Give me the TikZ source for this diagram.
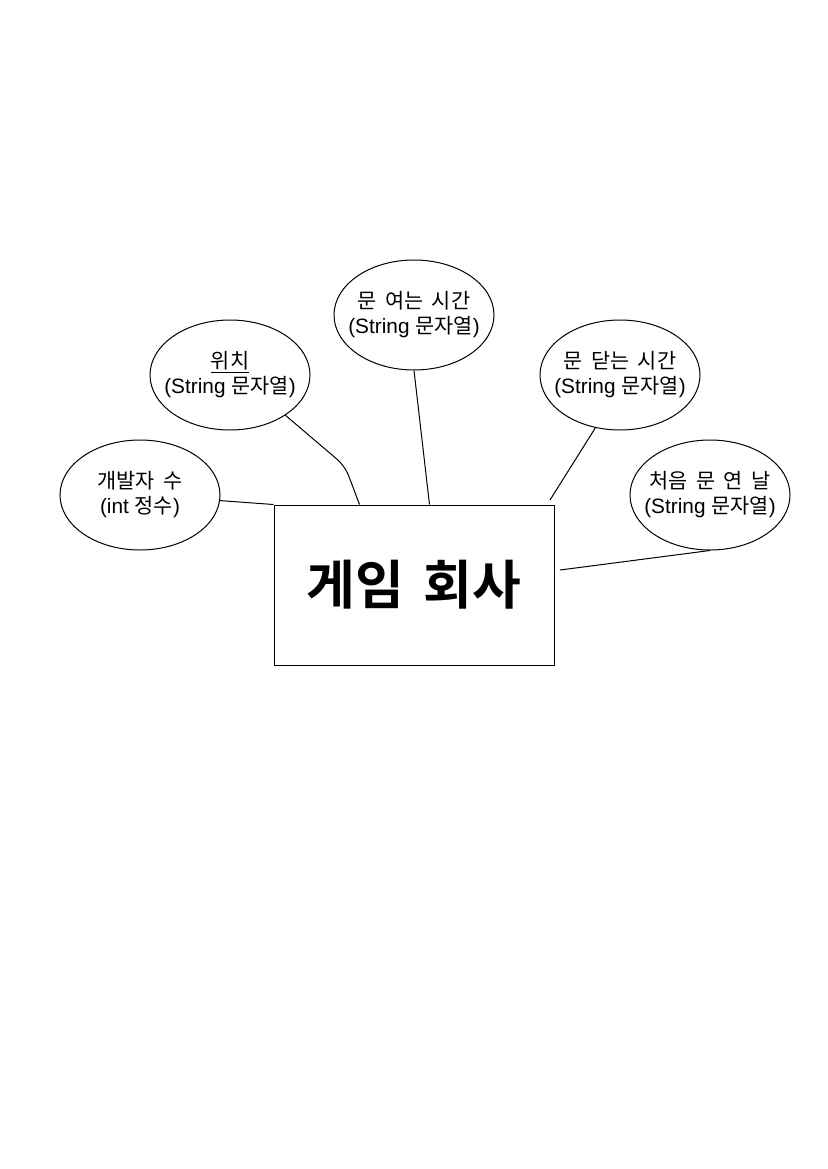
\documentclass[tikz,border=0pt]{standalone}
\usepackage{fontspec}
\setmainfont{Liberation Sans}
\newfontfamily\kr{Noto Sans CJK KR}[WordSpace=1.8]
\newfontfamily\krb{Noto Sans CJK KR Bold}[WordSpace=1.6]
\usetikzlibrary{shapes.geometric,calc}
\begin{document}
\begin{tikzpicture}[x=1pt,y=-1pt,
  attr/.style={draw=black,line width=1pt,ellipse,minimum width=160pt,minimum height=110pt,inner sep=0pt},
  attrtext/.style={align=center,inner sep=0pt,font=\fontsize{20.8}{25}\selectfont},
  entity/.style={draw=black,line width=1pt,minimum width=280pt,minimum height=160pt,inner sep=0pt,
    font=\krb\fontsize{53}{53}\selectfont},
  link/.style={draw=black,line width=1pt}]
\fill[white] (0,0) rectangle (827,1169);
\useasboundingbox (0,0) rectangle (827,1169);

\node[entity] (box) at (414,585) {게임 회사};

\node[attr] (e1) at (140,495) {};
\node[attrtext] (t1) at (e1.center) {{\kr 개발자 수}\\(int {\kr 정수})};

\node[attr] (e2) at (230,375) {};
\node[attrtext] (t2) at (e2.center) {\underline{\kr 위치}\\(String {\kr 문자열})};

\node[attr] (e3) at (414,315) {};
\node[attrtext] (t3) at (e3.center) {{\kr 문 여는 시간}\\(String {\kr 문자열})};

\node[attr] (e4) at (620,375) {};
\node[attrtext] (t4) at (e4.center) {{\kr 문 닫는 시간}\\(String {\kr 문자열})};

\node[attr] (e5) at (710,495) {};
\node[attrtext] (t5) at (e5.center) {{\kr 처음 문 연 날}\\(String {\kr 문자열})};

\coordinate (bend) at (345,466);
\coordinate (p2) at ($(box.north west)+(86,0)$);
\coordinate (p3) at ($(box.north west)+(156,0)$);
\coordinate (p4) at (550,500);
\coordinate (p5) at (560,570);

\draw[link] (e1.-4) -- (box.north west);
\draw[link,rounded corners=10pt] (e2.-36) -- (bend) -- (p2);
\draw[link] (e3.south) -- (p3);
\draw[link] (e4.-115) -- (p4);
\draw[link] (e5.south) -- (p5);
\end{tikzpicture}
\end{document}
